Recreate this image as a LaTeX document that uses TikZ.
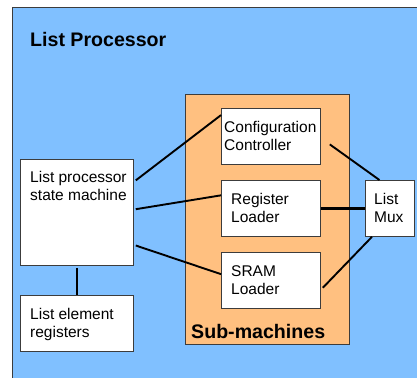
\documentclass[tikz,border=0pt]{standalone}
\usepackage{fontspec}
\setmainfont{Liberation Sans}
\usetikzlibrary{calc}
\definecolor{bgblue}{RGB}{128,192,255}
\definecolor{suborange}{RGB}{255,192,128}
\definecolor{edgegray}{RGB}{60,60,60}
\begin{document}
\begin{tikzpicture}[x=1pt,y=-1pt,
  box/.style={draw=edgegray,line width=0.8pt,fill=white,inner sep=0pt,anchor=north west},
  lbl/.style={font=\fontsize{15.5}{18}\selectfont,align=left,inner sep=0pt,anchor=base west},
  ttl/.style={font=\fontsize{19.6}{22}\selectfont\bfseries,inner sep=0pt,anchor=base west},
  conn/.style={line width=1.9pt,black},
  thick conn/.style={line width=2.8pt,black}]
\useasboundingbox[fill=white] (0,0) rectangle (417,377);
\begin{scope}
\clip (0,0) rectangle (417,377);
\node[draw=edgegray,line width=0.8pt,fill=bgblue,minimum width=420pt,minimum height=380pt,inner sep=0pt,anchor=north west] (lp) at (12,7) {};
\end{scope}
\node[ttl] (lpt) at (30,47) {List Processor};
% sub-machines
\node[draw=edgegray,line width=0.8pt,fill=suborange,minimum width=164pt,minimum height=250pt,inner sep=0pt,anchor=north west] (sm) at (185,94) {};
\node[ttl] (smt) at (191,338) {Sub-machines};
% boxes
\node[box,minimum width=99pt,minimum height=56pt] (cfg) at (221,108) {};
\node[box,minimum width=99pt,minimum height=56pt] (reg) at (221,180) {};
\node[box,minimum width=99pt,minimum height=56pt] (sram) at (221,252) {};
\node[box,minimum width=49pt,minimum height=56pt] (mux) at (365,180) {};
\node[box,minimum width=113pt,minimum height=106pt] (lpsm) at (20,159) {};
\node[box,minimum width=113pt,minimum height=56pt] (ler) at (20,295) {};
% labels (anchor = baseline of last line)
\node[lbl] (cfgt) at (224,150.5) {Configuration\\Controller};
\node[lbl] (regt) at (231,222.5) {Register\\Loader};
\node[lbl] (sramt) at (231,294.5) {SRAM\\Loader};
\node[lbl] (muxt) at (374,222.5) {List\\Mux};
\node[lbl] (lpsmt) at (30,200.5) {List processor\\state machine};
\node[lbl] (lert) at (30,337.5) {List element\\registers};
% connectors
\coordinate (cfgout) at ($(cfg.east)+(9,8)$);
\draw[conn] ($(lpsm.north east)!0.2!(lpsm.south east)+(2,0)$) -- ($(cfg.north west)!0.125!(cfg.south west)$);
\draw[conn] ($(lpsm.north east)!0.47!(lpsm.south east)+(2,0)$) -- ($(reg.north west)!0.27!(reg.south west)$);
\draw[conn] ($(lpsm.north east)!0.81!(lpsm.south east)+(2,0)$) -- ($(sram.north west)!0.39!(sram.south west)$);
\draw[conn] (cfgout) -- ($(mux.north west)!0.29!(mux.north east)$);
\draw[thick conn] (reg.east) -- (reg.east -| mux.west);
\draw[conn] ($(sram.north east)!0.63!(sram.south east)+(2,0)$) -- ($(mux.south west)!0.14!(mux.south east)$);
\draw[conn] ($(lpsm.south)+(0,2)$) -- (ler.north);
\end{tikzpicture}
\end{document}
